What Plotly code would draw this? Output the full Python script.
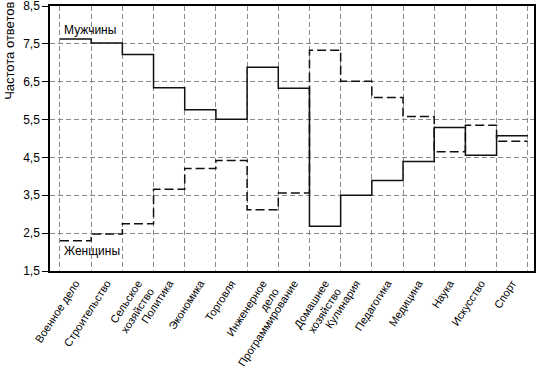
import plotly.graph_objects as go

categories = ["Военное дело", "Строительство", "Сельское<br>хозяйство", "Политика",
              "Экономика", "Торговля", "Инженерное<br>дело", "Программирование",
              "Домашнее<br>хозяйство", "Кулинария", "Педагогика", "Медицина",
              "Наука", "Искусство", "Спорт"]
men = [7.63, 7.52, 7.22, 6.34, 5.76, 5.51, 6.88, 6.33, 2.68, 3.50, 3.89, 4.39, 5.29, 4.56, 5.07]
women = [2.30, 2.48, 2.75, 3.66, 4.21, 4.42, 3.12, 3.56, 7.33, 6.51, 6.08, 5.58, 4.65, 5.35, 4.93]
y_ticks = [1.5, 2.5, 3.5, 4.5, 5.5, 6.5, 7.5, 8.5]
y_ticktext = [f"{v:.1f}".replace(".", ",") for v in y_ticks]

n = len(categories)
centers = list(range(n))
bounds = [i - 0.5 for i in range(n + 1)]

FONT = "Liberation Sans, Arial, sans-serif"

fig = go.Figure()
fig.add_trace(go.Scatter(x=bounds, y=women + [women[-1]], mode="lines", line_shape="hv",
                         line=dict(color="#111111", width=1.5, dash="9px,4px"),
                         name="Женщины", xaxis="x2", yaxis="y"))
fig.add_trace(go.Scatter(x=bounds, y=men + [men[-1]], mode="lines", line_shape="hv",
                         line=dict(color="#111111", width=1.5), name="Мужчины",
                         xaxis="x", yaxis="y"))

xr = [-0.82, 14.70]
fig.update_layout(
    template="none",
    width=537, height=390,
    margin=dict(l=50, r=3, t=6, b=119, pad=0),
    paper_bgcolor="white", plot_bgcolor="white",
    showlegend=False,
    font=dict(family=FONT, size=11, color="black"),
    xaxis=dict(range=xr, tickmode="array", tickvals=centers, ticktext=categories,
               tickangle=-57, showgrid=False, zeroline=False, ticks="",
               showline=True, linecolor="black", linewidth=1.5, mirror=True,
               automargin=False, ticklabeloverflow="allow",
               tickfont=dict(family=FONT, size=11, color="black")),
    xaxis2=dict(range=xr, overlaying="x", anchor="y", side="bottom", tickmode="array",
                tickvals=bounds, showticklabels=False, ticks="",
                showgrid=True, gridcolor="#8a8a8a", gridwidth=1, griddash="5px,3px",
                zeroline=False, showline=False, automargin=False),
    yaxis=dict(range=[1.5, 8.5], tickmode="array", tickvals=y_ticks, ticktext=y_ticktext,
               showgrid=True, gridcolor="#8a8a8a", gridwidth=1, griddash="5px,3px",
               zeroline=False, ticks="outside", ticklen=6, tickcolor="black",
               showline=True, linecolor="black", linewidth=1.5, mirror=True,
               automargin=False, ticklabeloverflow="allow",
               tickfont=dict(family=FONT, size=12, color="black")),
)

fig.add_annotation(text="Частота ответов", textangle=-90, xref="paper", yref="paper",
                   x=-0.085, y=1.0, xanchor="center", yanchor="top", yshift=6,
                   showarrow=False, font=dict(family=FONT, size=13, color="black"))
fig.add_annotation(text="Мужчины", xref="x", yref="y", x=bounds[0], y=7.86,
                   xanchor="left", yanchor="middle", xshift=2, showarrow=False,
                   font=dict(family=FONT, size=12, color="black"))
fig.add_annotation(text="Женщины", xref="x", yref="y", x=bounds[0], y=2.02,
                   xanchor="left", yanchor="middle", xshift=2, showarrow=False,
                   font=dict(family=FONT, size=12, color="black"))

fig.write_html("out.html", config={"displayModeBar": False},
               post_script="document.body.style.margin='0';")
